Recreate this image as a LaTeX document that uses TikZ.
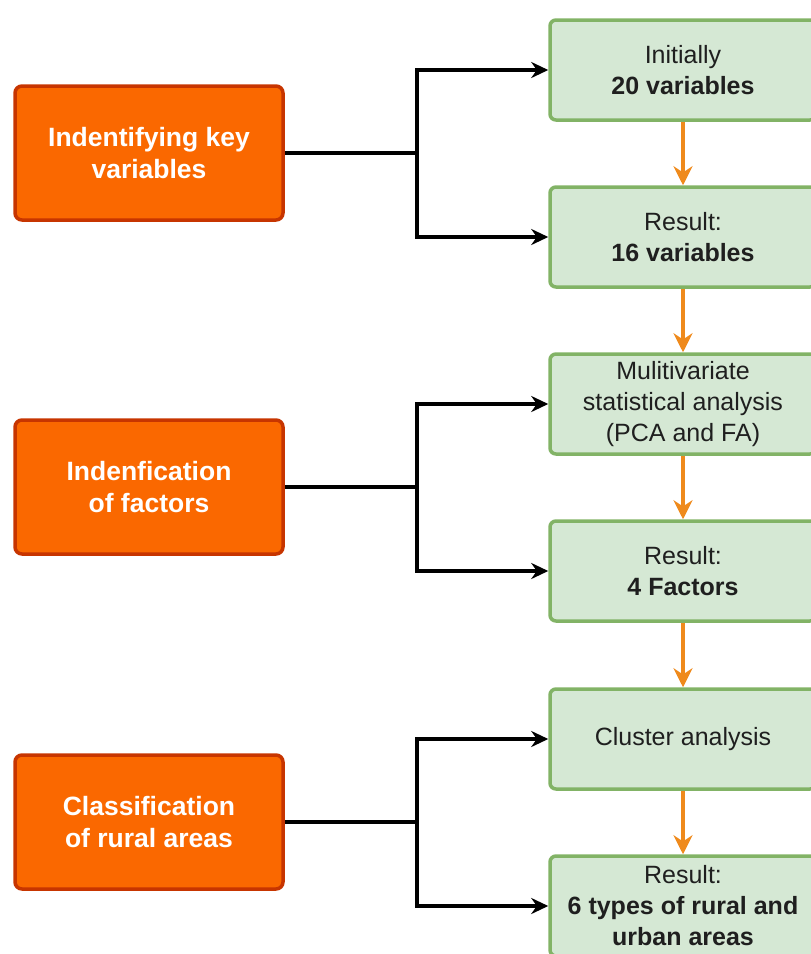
\documentclass[tikz,border=0pt]{standalone}
\usepackage{fontspec}
\setmainfont{Liberation Sans}
\usetikzlibrary{arrows.meta, positioning}
\definecolor{STEPorange}{HTML}{FA6800}
\definecolor{STEPorangeline}{HTML}{C73500}
\definecolor{RESgreen}{HTML}{D5E8D4}
\definecolor{RESgreenline}{HTML}{82B366}
\definecolor{FLOWorange}{HTML}{EF8A1C}

\begin{document}
\begin{tikzpicture}[x=1pt, y=-1pt,
      stepbox/.style={draw=STEPorangeline, fill=STEPorange, line width=3.5pt,
         rounded corners=7pt, minimum width=268pt, minimum height=134pt,
         align=center, text=white, font=\fontsize{26.5}{32}\selectfont\bfseries},
      resbox/.style={draw=RESgreenline, fill=RESgreen, line width=3.5pt,
         rounded corners=6pt, minimum width=266pt, minimum height=100pt,
         align=center, text=black!88, font=\fontsize{25}{31}\selectfont},
      link/.style={line width=3.2pt, -{Stealth[length=17pt, width=16pt]}},
      flow/.style={FLOWorange, line width=3.6pt, -{Stealth[length=19pt, width=19pt]}}]
   \useasboundingbox (0,0) rectangle (811,954);
   \clip (0,0) rectangle (811,954);
   % Steps (orange)
   \node[stepbox] (key) at (149,153) {Indentifying key\\variables};
   \node[stepbox] (fac) at (149,487) {Indenfication\\of factors};
   \node[stepbox] (cla) at (149,822) {Classification\\of rural areas};
   % Results (green)
   \node[resbox] (g1) at (683,70) {Initially\\\textbf{20 variables}};
   \node[resbox] (g2) at (683,237) {Result:\\\textbf{16 variables}};
   \node[resbox] (g3) at (683,404) {Mulitivariate\\statistical analysis\\(PCA and FA)};
   \node[resbox] (g4) at (683,571) {Result:\\\textbf{4 Factors}};
   \node[resbox] (g5) at (683,739) {Cluster analysis};
   \node[resbox] (g6) at (683,906) {Result:\\\textbf{6 types of rural and}\\\textbf{urban areas}};
   % Branches
   \coordinate (b1) at (417,153);
   \coordinate (b2) at (417,487);
   \coordinate (b3) at (417,822);
   \draw[line width=3.2pt] (key.east) -- (b1);
   \draw[line width=3.2pt] (fac.east) -- (b2);
   \draw[line width=3.2pt] (cla.east) -- (b3);
   \draw[link] (b1) |- (g1.west);
   \draw[link] (b1) |- (g2.west);
   \draw[link] (b2) |- (g3.west);
   \draw[link] (b2) |- (g4.west);
   \draw[link] (b3) |- (g5.west);
   \draw[link] (b3) |- (g6.west);
   % Flow between results
   \foreach \a/\b in {g1/g2, g2/g3, g3/g4, g4/g5, g5/g6}
      \draw[flow] (\a.south) -- (\b.north);
\end{tikzpicture}
\end{document}
